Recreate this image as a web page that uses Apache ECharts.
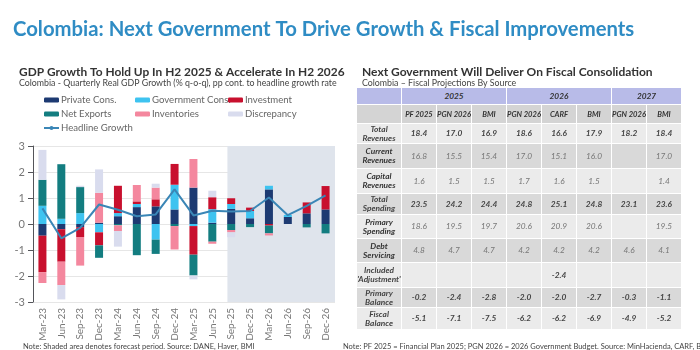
<!DOCTYPE html>
<html lang="en">
<head>
  <meta charset="UTF-8">
  <title>Colombia: Next Government To Drive Growth & Fiscal Improvements</title>
  <script src="https://cdn.jsdelivr.net/npm/echarts@6.0.0/dist/echarts.min.js"></script>
  <style>
    body { margin: 0; background: #fff; font-family: Lato, sans-serif; }
    #main { position: absolute; left: 0; top: 0; width: 700px; height: 350px; }
    /* fiscal table on the right */
    #fiscal {
      position: absolute; left: 356px; top: 87px; width: 326px;
      table-layout: fixed;
      border-collapse: separate; border-spacing: 1px;
      font-family: Lato, sans-serif; font-style: italic; font-size: 8.3px;
      text-align: center;
    }
    #fiscal td { padding: 0; line-height: 9px; color: #777; overflow: hidden; white-space: nowrap; }
    #fiscal tr.yr td { background: #b8bbe8; height: 16px; font-weight: bold; color: #333; }
    #fiscal tr.src td { background: #d4d4d4; height: 18px; font-weight: bold; color: #333; font-size: 7.6px; }
    #fiscal tr.light td { background: #ebebeb; }
    #fiscal tr.dark td { background: #d9d9d9; }
    #fiscal td.lab { font-weight: bold; color: #333; }
    #fiscal tr.bold td { font-weight: bold; color: #444; }
  </style>
</head>
<body>
  <div id="main"></div>
  <table id="fiscal"></table>

  <script>
    // GDP contributions, pp
    let quarters = ['Mar-23', 'Jun-23', 'Sep-23', 'Dec-23', 'Mar-24', 'Jun-24', 'Sep-24', 'Dec-24',
                    'Mar-25', 'Jun-25', 'Sep-25', 'Dec-25', 'Mar-26', 'Jun-26', 'Sep-26', 'Dec-26'];
    let privateCons = [-0.45, -0.2, -0.12, 0.05, 0.3, 0.65, 0.68, 0.56, 1.4, 0.05, 0.58, 0.22, 1.33, 0.27, 0.41, 0.56];
    let govCons = [0.7, 0.2, 0.42, -0.32, 0.12, 0.12, -0.6, 0.95, -0.08, 0.52, 0.19, 0.28, 0.14, 0.08, 0, 0];
    let investment = [-1.4, -1.25, -0.38, -0.5, 1.05, 0.1, 0.27, 0.8, -1.1, 0.46, 0.22, 0.13, -0.06, 0, 0.42, 0.9];
    let netExports = [1.0, 2.1, 1.0, -0.48, -0.05, -1.2, -0.55, -0.08, -0.8, -0.68, -0.23, -0.12, -0.3, 0, -0.13, -0.36];
    let inventories = [-0.42, -0.9, -1.1, 1.15, -0.22, 0.63, 0.45, -0.9, 1.1, -0.08, -0.09, 0, -0.08, 0, 0, 0];
    let discrepancy = [1.15, -0.55, 0.05, 0.9, -0.6, 0, 0.15, 0, -0.15, 0.25, -0.19, 0, 0, 0, 0, 0];
    let headline = [0.6, -0.55, -0.15, 0.75, 0.55, 0.3, 0.37, 1.33, 0.33, 0.51, 0.48, 0.5, 1.02, 0.34, 0.7, 1.1];
    let forecastStart = 10.3; // in category units, shaded area

    // fiscal projections, % of GDP
    let yearHeads = [['2025', 3], ['2026', 3], ['2027', 2]];
    let sources = ['PF 2025', 'PGN 2026', 'BMI', 'PGN 2026', 'CARF', 'BMI', 'PGN 2026', 'BMI'];
    let rowLabels = [['Total', 'Revenues'], ['Current', 'Revenues'], ['Capital', 'Revenues'], ['Total', 'Spending'],
                     ['Primary', 'Spending'], ['Debt', 'Servicing'], ['Included', '\'Adjustment\''],
                     ['Primary', 'Balance'], ['Fiscal', 'Balance']];
    let totalRevenues = [18.4, 17.0, 16.9, 18.6, 16.6, 17.9, 18.2, 18.4];
    let currentRevenues = [16.8, 15.5, 15.4, 17.0, 15.1, 16.0, null, 17.0];
    let capitalRevenues = [1.6, 1.5, 1.5, 1.7, 1.6, 1.5, null, 1.4];
    let totalSpending = [23.5, 24.2, 24.4, 24.8, 25.1, 24.8, 23.1, 23.6];
    let primarySpending = [18.6, 19.5, 19.7, 20.6, 20.9, 20.6, null, 19.5];
    let debtServicing = [4.8, 4.7, 4.7, 4.2, 4.2, 4.2, 4.6, 4.1];
    let adjustment = [null, null, null, null, -2.4, null, null, null];
    let primaryBalance = [-0.2, -2.4, -2.8, -2.0, -2.0, -2.7, -0.3, -1.1];
    let fiscalBalance = [-5.1, -7.1, -7.5, -6.2, -6.2, -6.9, -4.9, -5.2];
    let rowValues = [totalRevenues, currentRevenues, capitalRevenues, totalSpending, primarySpending,
                     debtServicing, adjustment, primaryBalance, fiscalBalance];
    let rowHeights = [19, 24, 24, 20, 23, 23, 24, 19, 21];
    let boldRows = [0, 3, 6, 7, 8];

    // build table
    let table = document.getElementById('fiscal');
    let html = '<colgroup><col style="width:44px">';
    sources.forEach(() => { html += '<col style="width:34px">'; });
    html += '</colgroup><tr class="yr"><td class="lab"></td>';
    yearHeads.forEach(y => { html += '<td colspan="' + y[1] + '">' + y[0] + '</td>'; });
    html += '</tr><tr class="src"><td class="lab"></td>';
    sources.forEach(s => { html += '<td>' + s + '</td>'; });
    html += '</tr>';
    rowLabels.forEach((lab, i) => {
      let cls = (i % 2 === 0 ? 'light' : 'dark') + (boldRows.includes(i) ? ' bold' : '');
      html += '<tr class="' + cls + '" style="height:' + rowHeights[i] + 'px"><td class="lab">' + lab[0] + '<br>' + lab[1] + '</td>';
      rowValues[i].forEach(v => { html += '<td>' + (v === null ? '' : v.toFixed(1)) + '</td>'; });
      html += '</tr>';
    });
    table.innerHTML = html;

    let myChart = echarts.init(document.getElementById('main'));
    let barSeries = (name, data, color) => ({
      name: name, type: 'bar', stack: 'gdp', data: data, barWidth: 8, z: 3,
      itemStyle: { color: color }
    });
    let legendText = { color: '#666', fontSize: 9.6, padding: [0, 0, 0, -3] };

    let option = {
      animation: false,
      textStyle: { fontFamily: 'Lato' },
      title: [
        { text: 'Colombia: Next Government To Drive Growth & Fiscal Improvements', left: 8, top: 14,
          textStyle: { color: '#2f8cc4', fontSize: 20.3, fontWeight: 'bold', fontFamily: 'Lato' } },
        { text: 'GDP Growth To Hold Up In H2 2025 & Accelerate In H2 2026', left: 14, top: 61,
          subtext: 'Colombia - Quarterly Real GDP Growth (% q-o-q), pp cont. to headline growth rate',
          itemGap: 1,
          textStyle: { color: '#333', fontSize: 11.9, fontWeight: 'bold', fontFamily: 'Lato' },
          subtextStyle: { color: '#444', fontSize: 8.8, fontFamily: 'Lato' } },
        { text: 'Next Government Will Deliver On Fiscal Consolidation', left: 357, top: 61,
          subtext: 'Colombia \u2013 Fiscal Projections By Source',
          itemGap: 1,
          textStyle: { color: '#333', fontSize: 12, fontWeight: 'bold', fontFamily: 'Lato' },
          subtextStyle: { color: '#444', fontSize: 8.8, fontFamily: 'Lato' } },
        { text: 'Note: Shaded area denotes forecast period. Source: DANE, Haver, BMI', left: 18, top: 338,
          textStyle: { color: '#444', fontSize: 7.5, fontWeight: 'normal', fontFamily: 'Lato' } },
        { text: 'Note: PF 2025 = Financial Plan 2025; PGN 2026 = 2026 Government Budget. Source: MinHacienda, CARF, BMI',
          left: 338, top: 338,
          textStyle: { color: '#444', fontSize: 7.5, fontWeight: 'normal', fontFamily: 'Lato' } }
      ],
      legend: [
        { left: 43, top: 95, orient: 'vertical', itemGap: 4, itemWidth: 15, itemHeight: 5, padding: 0,
          data: ['Private Cons.', 'Net Exports', 'Headline Growth'], textStyle: legendText },
        { left: 135, top: 95, orient: 'vertical', itemGap: 4, itemWidth: 15, itemHeight: 5, padding: 0,
          data: ['Government Cons.', 'Inventories'], textStyle: legendText },
        { left: 228, top: 95, orient: 'vertical', itemGap: 4, itemWidth: 15, itemHeight: 5, padding: 0,
          data: ['Investment', 'Discrepancy'], textStyle: legendText }
      ],
      grid: { left: 33, right: 365, top: 146, bottom: 48 },
      xAxis: [
        { type: 'category', data: quarters,
          axisLine: { show: false }, axisTick: { show: false },
          axisLabel: { rotate: 90, color: '#777', fontSize: 10, margin: 6 } },
        { type: 'value', min: 0, max: 16, show: false }
      ],
      yAxis: {
        type: 'value', min: -3, max: 3, interval: 1,
        axisLabel: { color: '#777', fontSize: 11, margin: 8 },
        splitLine: { lineStyle: { color: '#e6e6e6' } }
      },
      series: [
        { name: 'forecast', type: 'line', xAxisIndex: 1, data: [[0, 0]], symbol: 'none', z: 1,
          lineStyle: { opacity: 0 }, silent: true,
          markArea: { silent: true, itemStyle: { color: '#dfe4ec' },
            data: [[{ xAxis: forecastStart }, { xAxis: 16 }]] } },
        barSeries('Private Cons.', privateCons, '#1d3a72'),
        barSeries('Government Cons.', govCons, '#3ec3f0'),
        barSeries('Investment', investment, '#c8102e'),
        barSeries('Net Exports', netExports, '#137d80'),
        barSeries('Inventories', inventories, '#f4879e'),
        barSeries('Discrepancy', discrepancy, '#d9dcee'),
        { name: 'Headline Growth', type: 'line', data: headline, z: 5,
          symbol: 'none', lineStyle: { color: '#3a86b6', width: 2 }, itemStyle: { color: '#3a86b6' } }
      ]
    };
    myChart.setOption(option);
  </script>
</body>
</html>
